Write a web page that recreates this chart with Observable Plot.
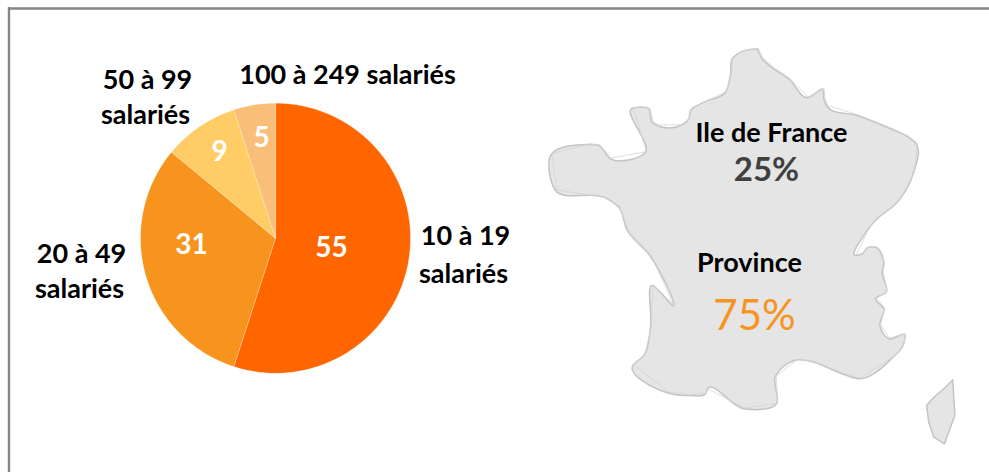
<!DOCTYPE html>
<html><head><meta charset="utf-8">
<script src="https://cdn.jsdelivr.net/npm/d3@7"></script>
<script src="https://cdn.jsdelivr.net/npm/@observablehq/plot@0.6"></script>
<style>html,body{margin:0;padding:0;background:#fff}svg{display:block}</style>
</head><body><div id="chart"></div>
<script>
const categories = ["10 à 19 salariés","20 à 49 salariés","50 à 99 salariés","100 à 249 salariés"];
const values = [55,31,9,5];
const sliceColors = ["#FF6600","#F7941E","#FFCC66","#F9BF78"];
const regions = ["Ile de France","Province"];
const regionShares = ["25%","75%"];

// outline (image units)
const mainland = [[756.7,48.3],[761.7,58.3],[773.3,68.3],[788.3,78.3],[806.7,97.3],[822.7,89],[823.3,98.3],[826.7,106],[856.7,115],[890,128.3],[906.7,136],[915.7,143.3],[912.7,173.3],[898.3,200],[873.3,221.7],[866.7,230],[855,255],[861.7,253.3],[866.7,247.3],[875,246.7],[883.3,263.3],[881.7,271.7],[885.7,291.7],[875,298.3],[883.3,308.3],[879.3,325],[888.3,338.3],[904,334],[901.7,346.7],[893.3,356],[858.3,378.3],[840,372.7],[813.3,361.7],[796.7,359.3],[775,375.7],[776,403.3],[743.3,408.3],[706.7,389],[705,393.3],[690,395],[668.3,392.7],[632.3,365],[643.3,355],[650,326.7],[651.7,285],[672.3,305],[649.3,255],[626.7,230],[618.3,206.7],[606.7,198.3],[555,190],[550.7,154],[588.3,144],[598.3,145],[610,158.3],[645,151.7],[631.7,107.7],[648.3,108.3],[651.7,121.7],[656.7,125],[680,125],[688.3,118.3],[690,110],[700,103.3],[725,91.7],[730,73.3],[731.7,58.3],[740,51.7],[756.7,48.3]];
const corsica = [[952.3,379.3],[954.3,415],[944,443.3],[933.3,436.7],[928.3,421.7],[926,405],[933.3,396.7],[945,386.7],[952.3,379.3]];

const pieCenter = [275,237.7], pieRadius = 135;
const total = d3.sum(values);
let acc = 0;
const pieRows = values.flatMap((v,i)=>{
  const a0 = acc/total*2*Math.PI; acc += v; const a1 = acc/total*2*Math.PI;
  const n = Math.ceil(v*2);
  const pts = [{cat:categories[i],x:pieCenter[0],y:pieCenter[1]}];
  for(let k=0;k<=n;k++){const a=a0+(a1-a0)*k/n;
    pts.push({cat:categories[i],x:pieCenter[0]+pieRadius*Math.sin(a),y:pieCenter[1]-pieRadius*Math.cos(a)});}
  pts.push(pts[0]);
  return pts;
});
const valueLabels = values.map((v,i)=>({t:String(v),...[{x:331,y:248},{x:191,y:245},{x:219,y:152},{x:261,y:138}][i]}));
const catLabels = [
 {t:"10 à 19",x:465,y:236},{t:"salariés",x:463,y:274},
 {t:"20 à 49",x:81,y:254},{t:"salariés",x:79,y:289},
 {t:"50 à 99",x:147,y:80},{t:"salariés",x:145,y:115},
 {t:"100 à 249 salariés",x:347,y:75}];
const lineOf = a=>a.map(([x,y])=>({x,y}));
const shift = (a,dx,dy)=>a.map(([x,y])=>({x:x+dx,y:y+dy}));

const plot = Plot.plot({
  width:989,height:472,margin:0,
  x:{domain:[0,989],range:[0,989],axis:null},
  y:{domain:[0,472],range:[0,472],axis:null},
  color:{domain:categories,range:sliceColors},
  style:{background:"#fff",fontFamily:"Lato, sans-serif"},
  marks:[
    Plot.ruleY([8],{x1:8,x2:989,stroke:"#868686",strokeWidth:2.4}),
    Plot.ruleX([8.5],{y1:7,y2:472,stroke:"#868686",strokeWidth:2.4}),
    Plot.line(pieRows,{x:"x",y:"y",z:"cat",fill:"cat",stroke:"#fff",strokeOpacity:0.25,strokeWidth:1,curve:"linear"}),
    Plot.text(valueLabels,{x:"x",y:"y",text:"t",fill:"#fff",fontSize:28,fontWeight:700}),
    Plot.text(catLabels,{x:"x",y:"y",text:"t",fill:"#000",fontSize:27,fontWeight:700}),
    Plot.line(lineOf(mainland),{x:"x",y:"y",fill:"#E5E5E5",stroke:"#C4C4C4",strokeWidth:1.5,curve:"catmull-rom",tension:1}),
    Plot.line(shift(mainland,0.9,-0.7),{x:"x",y:"y",stroke:"#D4D4D4",strokeWidth:0.8,curve:"linear"}),
    Plot.line(lineOf(corsica),{x:"x",y:"y",fill:"#E5E5E5",stroke:"#C4C4C4",strokeWidth:1.5,curve:"linear"}),
    Plot.text([regions[0]],{x:()=>771,y:()=>133,text:d=>d,fill:"#000",fontSize:27,fontWeight:700}),
    Plot.text([regionShares[0]],{x:()=>766,y:()=>170,text:d=>d,fill:"#404040",fontSize:33,fontWeight:700}),
    Plot.text([regions[1]],{x:()=>749,y:()=>263,text:d=>d,fill:"#000",fontSize:27,fontWeight:700}),
    Plot.text([regionShares[1]],{x:()=>754,y:()=>316,text:d=>d,fill:"#F7941E",fontSize:42,fontWeight:400})
  ]
});
document.getElementById("chart").append(plot);
</script></body></html>
